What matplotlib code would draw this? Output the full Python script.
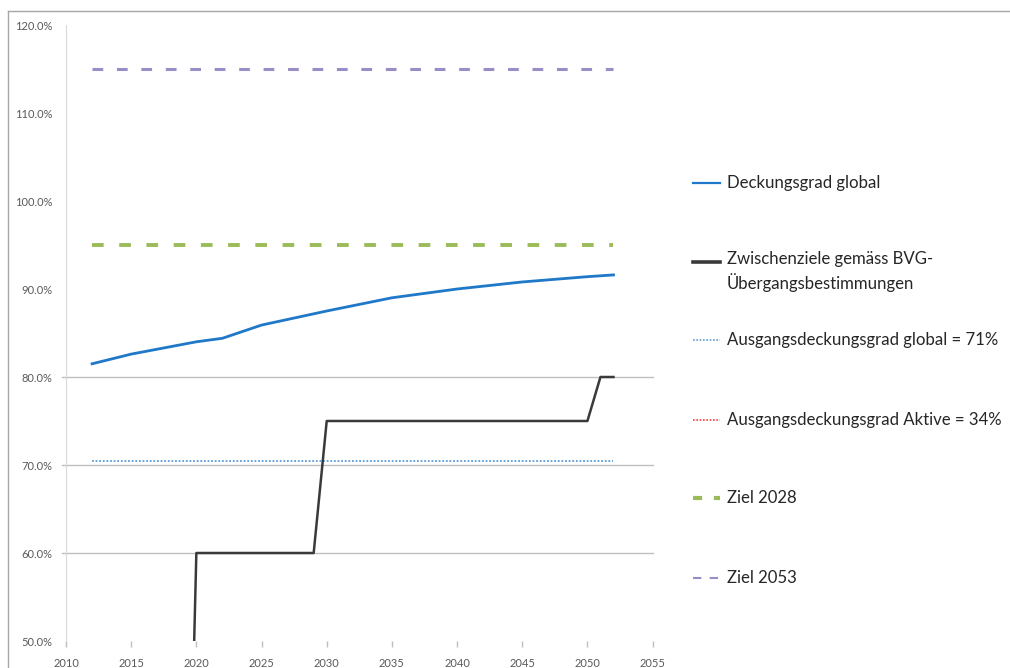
import matplotlib
matplotlib.use("Agg")
import matplotlib.pyplot as plt
from matplotlib.lines import Line2D
from matplotlib.ticker import FuncFormatter

plt.rcParams["font.family"] = ["Lato", "DejaVu Sans"]

# funding ratio projection (percent)
years = [2012, 2015, 2020, 2022, 2025, 2030, 2035, 2040, 2045, 2050, 2052]
deckungsgrad_global = [81.5, 82.6, 84.0, 84.4, 85.9, 87.5, 89.0, 90.0, 90.8, 91.4, 91.6]

# BVG transitional milestones
zwischen_years = [2019, 2020, 2029, 2030, 2050, 2051, 2052]
zwischen_values = [0, 60, 60, 75, 75, 80, 80]

span_years = [2012, 2052]
ausgang_global = 70.5
ausgang_aktive = 34.0
ziel_2028 = 95.0
ziel_2053 = 115.0

x_ticks = list(range(2010, 2056, 5))
y_ticks = [50, 60, 70, 80, 90, 100, 110, 120]
grid_levels = [60, 70, 80]

BLUE = "#1f78c8"
DOT_BLUE = "#5b9bd5"
RED = "#ff3b3b"
BLACK = "#3a3a3a"
GREEN = "#9bbb59"
PURPLE = "#9a8cc6"

W, H = 1010, 668
fig = plt.figure(figsize=(W / 100, H / 100), dpi=100)

# chart frame: only top and left edges fall inside the image
frame = dict(transform=fig.transFigure, color="#a6a6a6", linewidth=1.0)
fig.add_artist(Line2D([8 / W, 1.0], [1 - 11 / H] * 2, **frame))
fig.add_artist(Line2D([8 / W] * 2, [0.0, 1 - 11 / H], **frame))

ax = fig.add_axes([66 / W, 1 - 641 / H, (652.6 - 66) / W, (641 - 25) / H])

for lvl in grid_levels:
    ax.axhline(lvl, xmin=-0.007, xmax=1.0, color="#bfbfbf", linewidth=1.0,
               clip_on=False, zorder=1)

ax.plot(span_years, [ziel_2053] * 2, color=PURPLE, linewidth=2.2,
        dashes=(3.5, 4.5), zorder=3)
ax.plot(span_years, [ziel_2028] * 2, color=GREEN, linewidth=2.8,
        dashes=(3, 4), zorder=3)
ax.plot(span_years, [ausgang_global] * 2, color=DOT_BLUE, linewidth=1.3,
        linestyle=(0, (1, 1)), zorder=3)
ax.plot(span_years, [ausgang_aktive] * 2, color=RED, linewidth=1.3,
        linestyle=(0, (1, 1)), zorder=3)
ax.plot(zwischen_years, zwischen_values, color=BLACK, linewidth=1.8, zorder=4)
ax.plot(years, deckungsgrad_global, color=BLUE, linewidth=2.0, zorder=5)

ax.set_xlim(2010, 2055)
ax.set_ylim(50, 120)
ax.set_xticks(x_ticks)
ax.set_yticks(y_ticks)
ax.yaxis.set_major_formatter(FuncFormatter(lambda v, p: f"{v:.1f}%"))

for side in ["top", "right", "bottom"]:
    ax.spines[side].set_visible(False)
ax.spines["left"].set_color("#d9d9d9")
ax.tick_params(axis="y", length=0, pad=10, labelsize=8, labelcolor="#595959")
ax.tick_params(axis="x", length=4, width=1, color="#bfbfbf", pad=8,
               labelsize=8, labelcolor="#595959")

# legend on the right, one entry per row
legend_rows = [
    (183, dict(color=BLUE, linewidth=1.6), "Deckungsgrad global"),
    (262, dict(color=BLACK, linewidth=2.6),
     "Zwischenziele gemäss BVG-\nÜbergangsbestimmungen"),
    (340, dict(color=DOT_BLUE, linewidth=1.2, linestyle=(0, (1, 1))),
     "Ausgangsdeckungsgrad global = 71%"),
    (420, dict(color=RED, linewidth=1.2, linestyle=(0, (1, 1))),
     "Ausgangsdeckungsgrad Aktive = 34%"),
    (498, dict(color=GREEN, linewidth=3.0, dashes=(2.2, 2.8)), "Ziel 2028"),
    (578, dict(color=PURPLE, linewidth=1.5, dashes=(4, 4)), "Ziel 2053"),
]
for y_px, style, label in legend_rows:
    yf = 1 - y_px / H
    fig.add_artist(Line2D([693 / W, 720 / W], [yf, yf],
                          transform=fig.transFigure, **style))
    if "\n" in label:
        fig.text(727 / W, yf + 11 / H, label, fontsize=12.1, color="#262626",
                 va="top", linespacing=1.4)
    else:
        fig.text(727 / W, yf, label, fontsize=12.1, color="#262626",
                 va="center")

fig.savefig("out.png", dpi=100)
